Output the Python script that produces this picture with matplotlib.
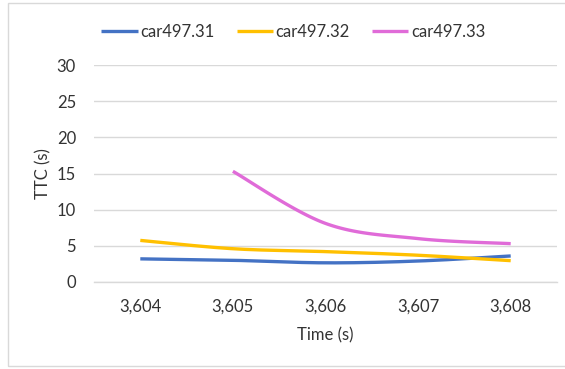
import numpy as np
import matplotlib
matplotlib.use("Agg")
import matplotlib.pyplot as plt
from matplotlib.patches import Rectangle

plt.rcParams['font.family'] = ['Lato', 'DejaVu Sans']

# Time categories (s)
times = ["3,604", "3,605", "3,606", "3,607", "3,608"]

# TTC values (s); None where the vehicle has no value
car_31 = [3.2, 3.0, 2.65, 2.9, 3.6]
car_32 = [5.75, 4.6, 4.2, 3.7, 2.95]
car_33 = [None, 15.3, 8.1, 6.0, 5.3]

series = [
    ("car497.31", car_31, "#4472C4"),
    ("car497.32", car_32, "#FFC000"),
    ("car497.33", car_33, "#E06BD8"),
]

TEXT = "#333333"
FS = 12


def smooth(xs, ys, n=40):
    """Smoothed curve through the points (Catmull-Rom style Bezier)."""
    xs = np.asarray(xs, float)
    ys = np.asarray(ys, float)
    px, py = [], []
    for i in range(len(xs) - 1):
        x0, y0 = (xs[i - 1], ys[i - 1]) if i > 0 else (xs[i], ys[i])
        x3, y3 = (xs[i + 2], ys[i + 2]) if i + 2 < len(xs) else (xs[i + 1], ys[i + 1])
        x1, y1, x2, y2 = xs[i], ys[i], xs[i + 1], ys[i + 1]
        c1x, c1y = x1 + (x2 - x0) / 6, y1 + (y2 - y0) / 6
        c2x, c2y = x2 - (x3 - x1) / 6, y2 - (y3 - y1) / 6
        t = np.linspace(0, 1, n)
        b0, b1, b2, b3 = (1 - t) ** 3, 3 * (1 - t) ** 2 * t, 3 * (1 - t) * t ** 2, t ** 3
        px.extend(b0 * x1 + b1 * c1x + b2 * c2x + b3 * x2)
        py.extend(b0 * y1 + b1 * c1y + b2 * c2y + b3 * y2)
    return np.array(px), np.array(py)


W, H = 565, 369
fig = plt.figure(figsize=(W / 100, H / 100), dpi=100)
fig.patch.set_facecolor("white")

# Chart frame
fig.patches.append(Rectangle((8 / W, 3 / H), (W - 8) / W + 0.01, (366 - 3) / H,
                             transform=fig.transFigure, fill=False,
                             edgecolor="#D9D9D9", linewidth=1.0))

ax = fig.add_axes([94 / W, 1 - 282 / H, (557 - 94) / W, (282 - 65) / H])
pos = np.arange(len(times))

handles = []
for name, vals, color in series:
    xs = [p for p, v in zip(pos, vals) if v is not None]
    ys = [v for v in vals if v is not None]
    sx, sy = smooth(xs, ys)
    h, = ax.plot(sx, sy, color=color, linewidth=2.4, solid_capstyle="butt",
                 label=name, zorder=3)
    handles.append(h)

ax.set_xlim(-0.5, len(times) - 0.5)
ax.set_ylim(0, 30)
ax.set_yticks(np.arange(0, 31, 5))
ax.set_xticks(pos)
ax.set_xticklabels(times)

ax.yaxis.grid(True, color="#D9D9D9", linewidth=1.0)
ax.set_axisbelow(True)
for s in ["top", "right", "left"]:
    ax.spines[s].set_visible(False)
ax.spines["bottom"].set_color("#D9D9D9")
ax.spines["bottom"].set_linewidth(1.0)
ax.tick_params(axis="both", length=0, labelsize=FS, colors=TEXT)
ax.tick_params(axis="y", pad=13)
ax.tick_params(axis="x", pad=12)

ax.set_xlabel("Time (s)", fontsize=FS, color=TEXT, labelpad=9)
ax.set_ylabel("TTC (s)", fontsize=FS, color=TEXT, labelpad=4)

fig.legend(handles=handles, loc="center", bbox_to_anchor=(0.519, 1 - 31.7 / H),
           ncol=3, frameon=False, fontsize=FS, handlelength=2.2,
           handletextpad=0.15, columnspacing=1.3, labelcolor=TEXT)

fig.savefig("out.png", dpi=100, facecolor="white")
